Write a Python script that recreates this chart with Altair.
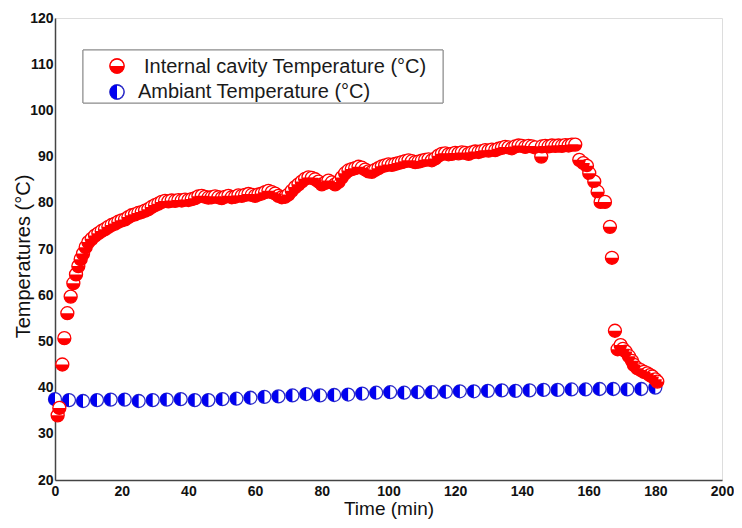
import altair as alt
import pandas as pd

# ---- data ----
red_time = [0.8, 1.3, 2.2, 2.8, 3.7, 4.7, 5.5, 6.3, 7.0, 7.7, 8.4, 9.2,
            10, 11, 12, 13, 14, 15, 16, 17, 18, 19, 20, 21, 22, 23, 24, 25, 26, 27, 28, 29,
            30, 31, 32, 33, 34, 35, 36, 37, 38, 39, 40, 41, 42, 43, 44, 45, 46, 47, 48, 49,
            50, 51, 52, 53, 54, 55, 56, 57, 58, 59, 60, 61, 62, 63, 64, 65, 66, 67, 68, 69,
            70, 71, 72, 73, 74, 75, 76, 77, 78, 79, 80, 81, 82, 83, 84, 85, 86, 87, 88, 89,
            90, 91, 92, 93, 94, 95, 96, 97, 98, 99, 100, 101, 102, 103, 104, 105, 106, 107, 108, 109,
            110, 111, 112, 113, 114, 115, 116, 117, 118, 119, 120, 121, 122, 123, 124, 125, 126, 127, 128, 129,
            130, 131, 132, 133, 134, 135, 136, 137, 138, 139, 140, 141, 142, 143, 144, 145.8,
            146, 147, 148, 149, 150, 151, 152, 153, 154, 155, 156,
            157.2, 158.4, 159.5, 160.2, 161.7, 162.7, 163.6, 164.9, 166.4, 167.0, 167.9,
            168.7, 169.6, 170.3, 171.1, 172.1, 173.0, 173.6, 174.6, 175.6, 176.6, 177.6,
            178.4, 179.1, 180.0, 180.6]
red_temp = [34.0, 35.6, 45.0, 50.7, 56.1, 59.7, 62.6, 64.5, 66.3, 67.8, 69.0, 70.4,
            71.5, 72.2, 72.9, 73.4, 73.9, 74.3, 74.8, 75.2, 75.5, 75.9, 76.2, 76.4, 76.9, 77.3, 77.5, 77.8, 78.0, 78.3, 78.6, 79.1,
            79.5, 79.8, 80.2, 80.4, 80.3, 80.5, 80.4, 80.6, 80.5, 80.7, 80.6, 80.8, 81.0, 81.4, 81.5, 81.3, 81.1, 81.2, 81.4, 81.2,
            81.0, 81.3, 81.5, 81.2, 81.3, 81.6, 81.5, 81.7, 81.9, 81.7, 81.5, 81.8, 82.0, 82.3, 82.6, 82.3, 82.0, 81.5, 81.2, 81.3,
            81.8, 82.6, 83.4, 84.0, 84.6, 85.2, 85.5, 85.4, 85.1, 84.6, 84.0, 84.3, 84.8, 84.4, 84.0, 84.5, 85.5, 86.4, 87.0, 87.3,
            87.5, 87.8, 87.6, 87.2, 86.8, 86.7, 87.1, 87.5, 87.9, 88.1, 88.3, 88.2, 88.4, 88.6, 88.8, 89.0, 89.2, 89.0, 88.8, 88.9,
            89.1, 89.3, 89.4, 89.2, 89.6, 90.2, 90.6, 90.7, 90.5, 90.6, 90.8, 90.7, 90.9, 90.8, 90.6, 90.9, 91.1, 91.0, 91.2, 91.4,
            91.3, 91.5, 91.4, 91.7, 91.9, 92.1, 92.0, 91.8, 92.2, 92.4, 92.3, 92.1, 92.3, 92.2, 92.0, 90.0,
            92.2, 92.3, 92.2, 92.4, 92.3, 92.4, 92.3, 92.5, 92.4, 92.6, 92.6,
            89.3, 88.6, 88.0, 86.4, 84.6, 82.4, 80.2, 80.2, 74.8, 68.1, 52.3,
            48.3, 49.2, 48.4, 47.8, 46.8, 45.8, 44.9, 44.2, 43.8, 43.4, 43.1,
            42.7, 42.4, 41.8, 41.3]

amb_time = [0, 4.2, 8.4, 12.6, 16.7, 20.9, 25.1, 29.3, 33.5, 37.7, 41.9, 46.0, 50.2, 54.4,
            58.6, 62.8, 67.0, 71.2, 75.3, 79.5, 83.7, 87.9, 92.1, 96.3, 100.5, 104.7, 108.8,
            113.0, 117.2, 121.4, 125.6, 129.8, 134.0, 138.1, 142.3, 146.5, 150.7, 154.9,
            159.1, 163.3, 167.4, 171.6, 175.8, 180.0]
amb_temp = [37.5, 37.3, 37.1, 37.3, 37.4, 37.4, 37.1, 37.3, 37.4, 37.5, 37.3, 37.3, 37.5, 37.6,
            37.8, 38.0, 38.1, 38.3, 38.6, 38.3, 38.4, 38.5, 38.7, 38.9, 39.0, 38.9, 39.0,
            39.0, 39.1, 39.2, 39.2, 39.3, 39.4, 39.3, 39.4, 39.5, 39.5, 39.6,
            39.6, 39.7, 39.7, 39.6, 39.7, 40.0]

series_labels = ["Internal cavity Temperature (°C)", "Ambiant Temperature (°C)"]
x_ticks = [0, 20, 40, 60, 80, 100, 120, 140, 160, 180, 200]
y_ticks = [20, 30, 40, 50, 60, 70, 80, 90, 100, 110, 120]

RED = "#ff0000"
BLUE = "#0000f0"
BLUE_EDGE = "#2c2cc8"
FONT = "Liberation Sans"
MS = 169  # marker area (13 px diameter)

BOTTOM_HALF = ("M -1 0 C -1 0.5523 -0.5523 1 0 1 C 0.5523 1 1 0.5523 1 0 Z")
LEFT_HALF = ("M 0 -1 C -0.5523 -1 -1 -0.5523 -1 0 C -1 0.5523 -0.5523 1 0 1 Z")

red_df = pd.DataFrame({"t": red_time, "T": red_temp})
amb_df = pd.DataFrame({"t": amb_time, "T": amb_temp})

xs = alt.Scale(domain=[0, 200], nice=False, zero=False)
ys = alt.Scale(domain=[20, 120], nice=False, zero=False)

x_axis = alt.Axis(values=x_ticks, title="Time (min)", grid=False, ticks=False,
                  domainColor="#444444", domainWidth=1.5,
                  labelFont=FONT, labelFontSize=14, labelFontWeight="bold", labelColor="#111111",
                  labelPadding=4, labelFlush=False,
                  titleFont=FONT, titleFontSize=19, titleFontWeight="normal", titleColor="#111111",
                  titlePadding=1)
y_axis = alt.Axis(values=y_ticks, title="Temperatures (°C)", grid=False, ticks=False,
                  domainColor="#444444", domainWidth=1.5,
                  labelFont=FONT, labelFontSize=14, labelFontWeight="bold", labelColor="#111111",
                  labelPadding=2, labelFlush=False,
                  titleFont=FONT, titleFontSize=20, titleFontWeight="normal", titleColor="#111111",
                  titleX=-22, titleY=238)


def enc(df):
    return alt.Chart(df).encode(
        x=alt.X("t:Q", scale=xs, axis=x_axis),
        y=alt.Y("T:Q", scale=ys, axis=y_axis),
    )


amb_circle = enc(amb_df).mark_point(shape="circle", filled=True, fill="white", stroke=BLUE_EDGE,
                                    strokeWidth=1.3, size=MS, opacity=1, fillOpacity=1)
amb_half = enc(amb_df).mark_point(shape=LEFT_HALF, filled=True, fill=BLUE, strokeWidth=0,
                                  size=MS, opacity=1, fillOpacity=1)
red_circle = enc(red_df).mark_point(shape="circle", filled=True, fill="white", stroke=RED,
                                    strokeWidth=1.3, size=MS, opacity=1, fillOpacity=1)
red_half = enc(red_df).mark_point(shape=BOTTOM_HALF, filled=True, fill=RED, strokeWidth=0,
                                  size=MS, opacity=1, fillOpacity=1)

# ---- manual legend ----
leg_df = pd.DataFrame({"label": series_labels})
box = alt.Chart(leg_df).mark_rect(fill="white", stroke="#8a8a8a", strokeWidth=1).encode(
    x=alt.value(28), x2=alt.value(388), y=alt.value(32), y2=alt.value(85))

LS = 196
leg_red_c = alt.Chart(leg_df).mark_point(shape="circle", filled=True, fill="white", stroke=RED,
                                         strokeWidth=1.3, size=LS, opacity=1).encode(
    x=alt.value(62), y=alt.value(48))
leg_red_h = alt.Chart(leg_df).mark_point(shape=BOTTOM_HALF, filled=True, fill=RED, strokeWidth=0,
                                         size=LS, opacity=1).encode(
    x=alt.value(62), y=alt.value(48))
leg_blue_c = alt.Chart(leg_df).mark_point(shape="circle", filled=True, fill="white", stroke=BLUE_EDGE,
                                          strokeWidth=1.3, size=LS, opacity=1).encode(
    x=alt.value(62), y=alt.value(74))
leg_blue_h = alt.Chart(leg_df).mark_point(shape=LEFT_HALF, filled=True, fill=BLUE, strokeWidth=0,
                                          size=LS, opacity=1).encode(
    x=alt.value(62), y=alt.value(74))
leg_red_t = alt.Chart(pd.DataFrame({"label": [series_labels[0]]})).mark_text(
    align="left", baseline="alphabetic", font=FONT, fontSize=20, color="#1a1a1a").encode(
    x=alt.value(89), y=alt.value(55), text="label:N")
leg_blue_t = alt.Chart(pd.DataFrame({"label": [series_labels[1]]})).mark_text(
    align="left", baseline="alphabetic", font=FONT, fontSize=20, color="#1a1a1a").encode(
    x=alt.value(83), y=alt.value(80), text="label:N")

chart = alt.layer(
    amb_circle, amb_half, red_circle, red_half,
    box, leg_red_c, leg_red_h, leg_blue_c, leg_blue_h, leg_red_t, leg_blue_t,
).properties(
    width=667, height=462,
    autosize=alt.AutoSizeParams(type="none"),
    padding={"left": 47, "top": 10, "right": 12, "bottom": 40},
).configure_view(stroke=None).configure(background="white")

chart.save("out.html", embed_options={"renderer": "svg", "actions": False})
